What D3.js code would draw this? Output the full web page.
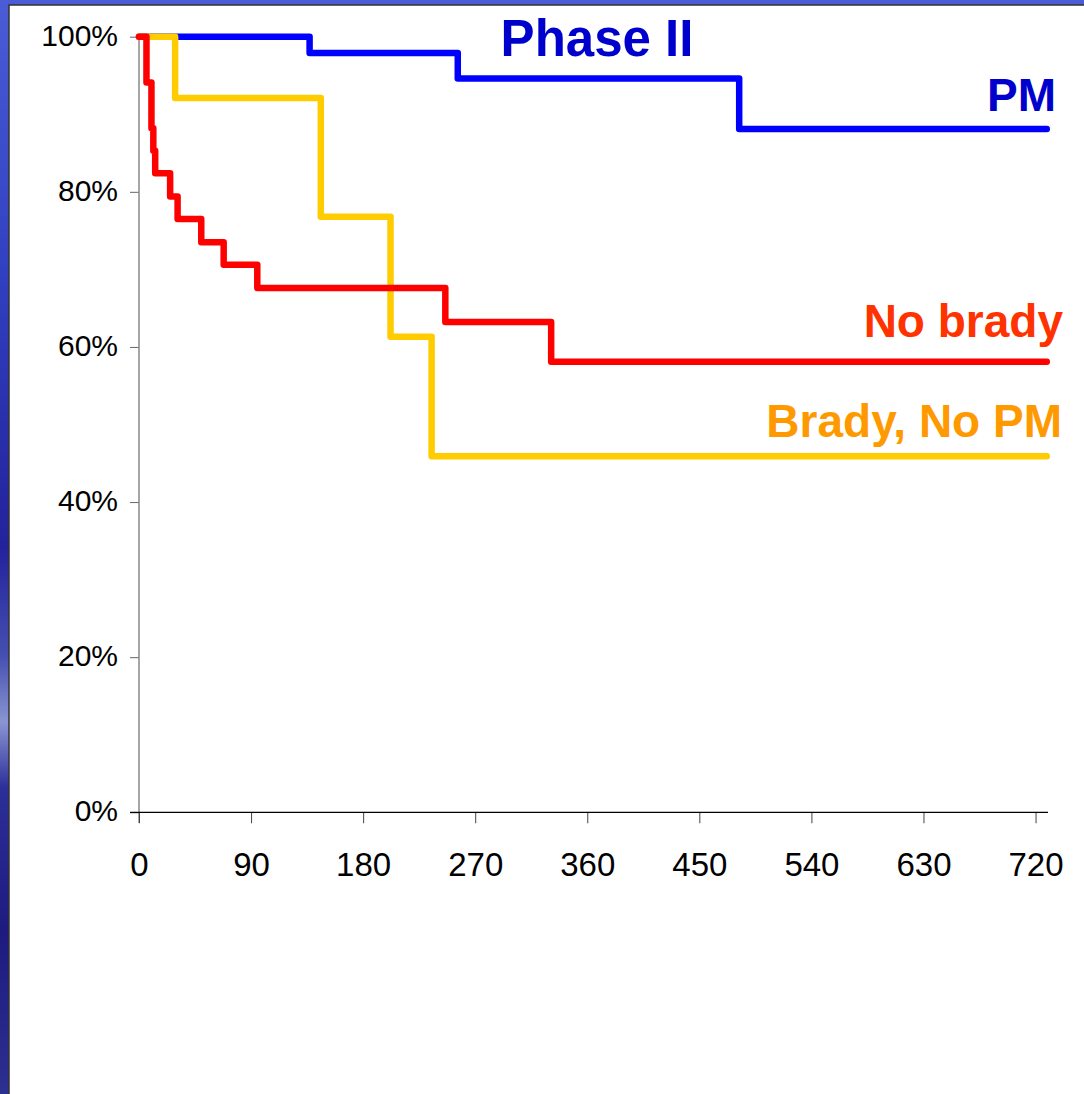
<!DOCTYPE html>
<html>
<head>
<meta charset="utf-8">
<script src="https://cdn.jsdelivr.net/npm/d3@7"></script>
<style>
  body { margin: 0; background: #fff; }
  svg { display: block; }
</style>
</head>
<body>
<div id="chart"></div>
<script>
// survival data (days, % surviving)
var pmDays = [0, 137, 256, 482, 729];
var pmSurv = [100, 97.9, 94.6, 88.1, 88.1];

var bradyNoPmDays = [0, 29, 146, 202, 235, 729];
var bradyNoPmSurv = [100, 92.1, 76.8, 61.3, 45.9, 45.9];

var noBradyDays = [0, 6, 10, 11.5, 13, 25, 31, 50, 68, 95, 246, 331, 729];
var noBradySurv = [100, 94.1, 88.2, 85.3, 82.4, 79.4, 76.5, 73.5, 70.6, 67.6, 63.2, 58.1, 58.1];

var xTicks = [0, 90, 180, 270, 360, 450, 540, 630, 720];
var yTicks = [0, 20, 40, 60, 80, 100];

var width = 1084, height = 1094;

var svg = d3.select("#chart").append("svg")
    .attr("width", width)
    .attr("height", height);

// slide background
var defs = svg.append("defs");
var grad = defs.append("linearGradient")
    .attr("id", "slideBg")
    .attr("x1", 0).attr("y1", 0).attr("x2", 0).attr("y2", 1);
grad.append("stop").attr("offset", "0%").attr("stop-color", "#4a5cd6");
grad.append("stop").attr("offset", "25%").attr("stop-color", "#3140c0");
grad.append("stop").attr("offset", "50%").attr("stop-color", "#23229a");
grad.append("stop").attr("offset", "60%").attr("stop-color", "#4650b0");
grad.append("stop").attr("offset", "66%").attr("stop-color", "#8a95d2");
grad.append("stop").attr("offset", "72%").attr("stop-color", "#2c2f98");
grad.append("stop").attr("offset", "85%").attr("stop-color", "#1e1a80");
grad.append("stop").attr("offset", "100%").attr("stop-color", "#2c3090");

svg.append("rect")
    .attr("width", width).attr("height", height)
    .attr("fill", "url(#slideBg)");

svg.append("rect")
    .attr("x", 9).attr("y", 5)
    .attr("width", width - 9 + 2).attr("height", height - 5 + 2)
    .attr("fill", "#fff")
    .attr("stroke", "#333")
    .attr("stroke-width", 1.5);

var x = d3.scaleLinear().domain([0, 730]).range([139, 1048]);
var y = d3.scaleLinear().domain([0, 100]).range([812.3, 36.7]);

// y axis
var yAxis = svg.append("g")
    .attr("transform", "translate(139,0)")
    .call(d3.axisLeft(y).tickValues(yTicks).tickSize(9).tickPadding(21)
        .tickFormat(function (d) { return d + "%"; }));
yAxis.select(".domain").remove();
yAxis.selectAll(".tick line").attr("stroke", "#666");
yAxis.selectAll(".tick text")
    .attr("dy", null)
    .attr("y", 8.5)
    .attr("x", -21)
    .style("font-family", "'Liberation Sans', Arial, sans-serif")
    .style("font-size", "30px")
    .attr("fill", "#000");
svg.append("line")
    .attr("x1", 139).attr("x2", 139)
    .attr("y1", y(100)).attr("y2", 823)
    .attr("stroke", "#888").attr("stroke-width", 1.5);

// x axis
var xAxis = svg.append("g")
    .attr("transform", "translate(0," + y(0) + ")")
    .call(d3.axisBottom(x).tickValues(xTicks).tickSize(11));
xAxis.select(".domain").remove();
xAxis.selectAll(".tick line").attr("stroke", "#444");
xAxis.selectAll(".tick text")
    .attr("dy", null)
    .attr("y", 876 - y(0))
    .style("font-family", "'Liberation Sans', Arial, sans-serif")
    .style("font-size", "33px")
    .attr("fill", "#000");
svg.append("line")
    .attr("x1", 130).attr("x2", x(730))
    .attr("y1", y(0)).attr("y2", y(0))
    .attr("stroke", "#000").attr("stroke-width", 1.2);

// curves
var line = d3.line()
    .x(function (d) { return x(d[0]); })
    .y(function (d) { return y(d[1]); })
    .curve(d3.curveStepAfter);

var series = [
    { days: pmDays, surv: pmSurv, color: "#0000ff" },
    { days: bradyNoPmDays, surv: bradyNoPmSurv, color: "#ffcc00" },
    { days: noBradyDays, surv: noBradySurv, color: "#ff0000" }
];

series.forEach(function (s) {
    svg.append("path")
        .datum(d3.zip(s.days, s.surv))
        .attr("d", line)
        .attr("fill", "none")
        .attr("stroke", s.color)
        .attr("stroke-width", 6.5)
        .attr("stroke-linejoin", "round")
        .attr("stroke-linecap", "round");
});

// labels
var labels = [
    { text: "Phase II", x: 597, y: 56, anchor: "middle", size: 51, color: "#0000cc" },
    { text: "PM", x: 1056, y: 110.7, anchor: "end", size: 46, color: "#0000cc" },
    { text: "No brady", x: 1063, y: 336.7, anchor: "end", size: 46, color: "#ff3300" },
    { text: "Brady, No PM", x: 1062, y: 436.7, anchor: "end", size: 46, color: "#ff9900" }
];

svg.selectAll(".lbl")
    .data(labels)
    .enter().append("text")
    .attr("class", "lbl")
    .attr("x", function (d) { return d.x; })
    .attr("y", function (d) { return d.y; })
    .attr("text-anchor", function (d) { return d.anchor; })
    .style("font-family", "'Liberation Sans', Arial, sans-serif")
    .style("font-weight", "bold")
    .style("font-size", function (d) { return d.size + "px"; })
    .attr("fill", function (d) { return d.color; })
    .text(function (d) { return d.text; });
</script>
</body>
</html>
